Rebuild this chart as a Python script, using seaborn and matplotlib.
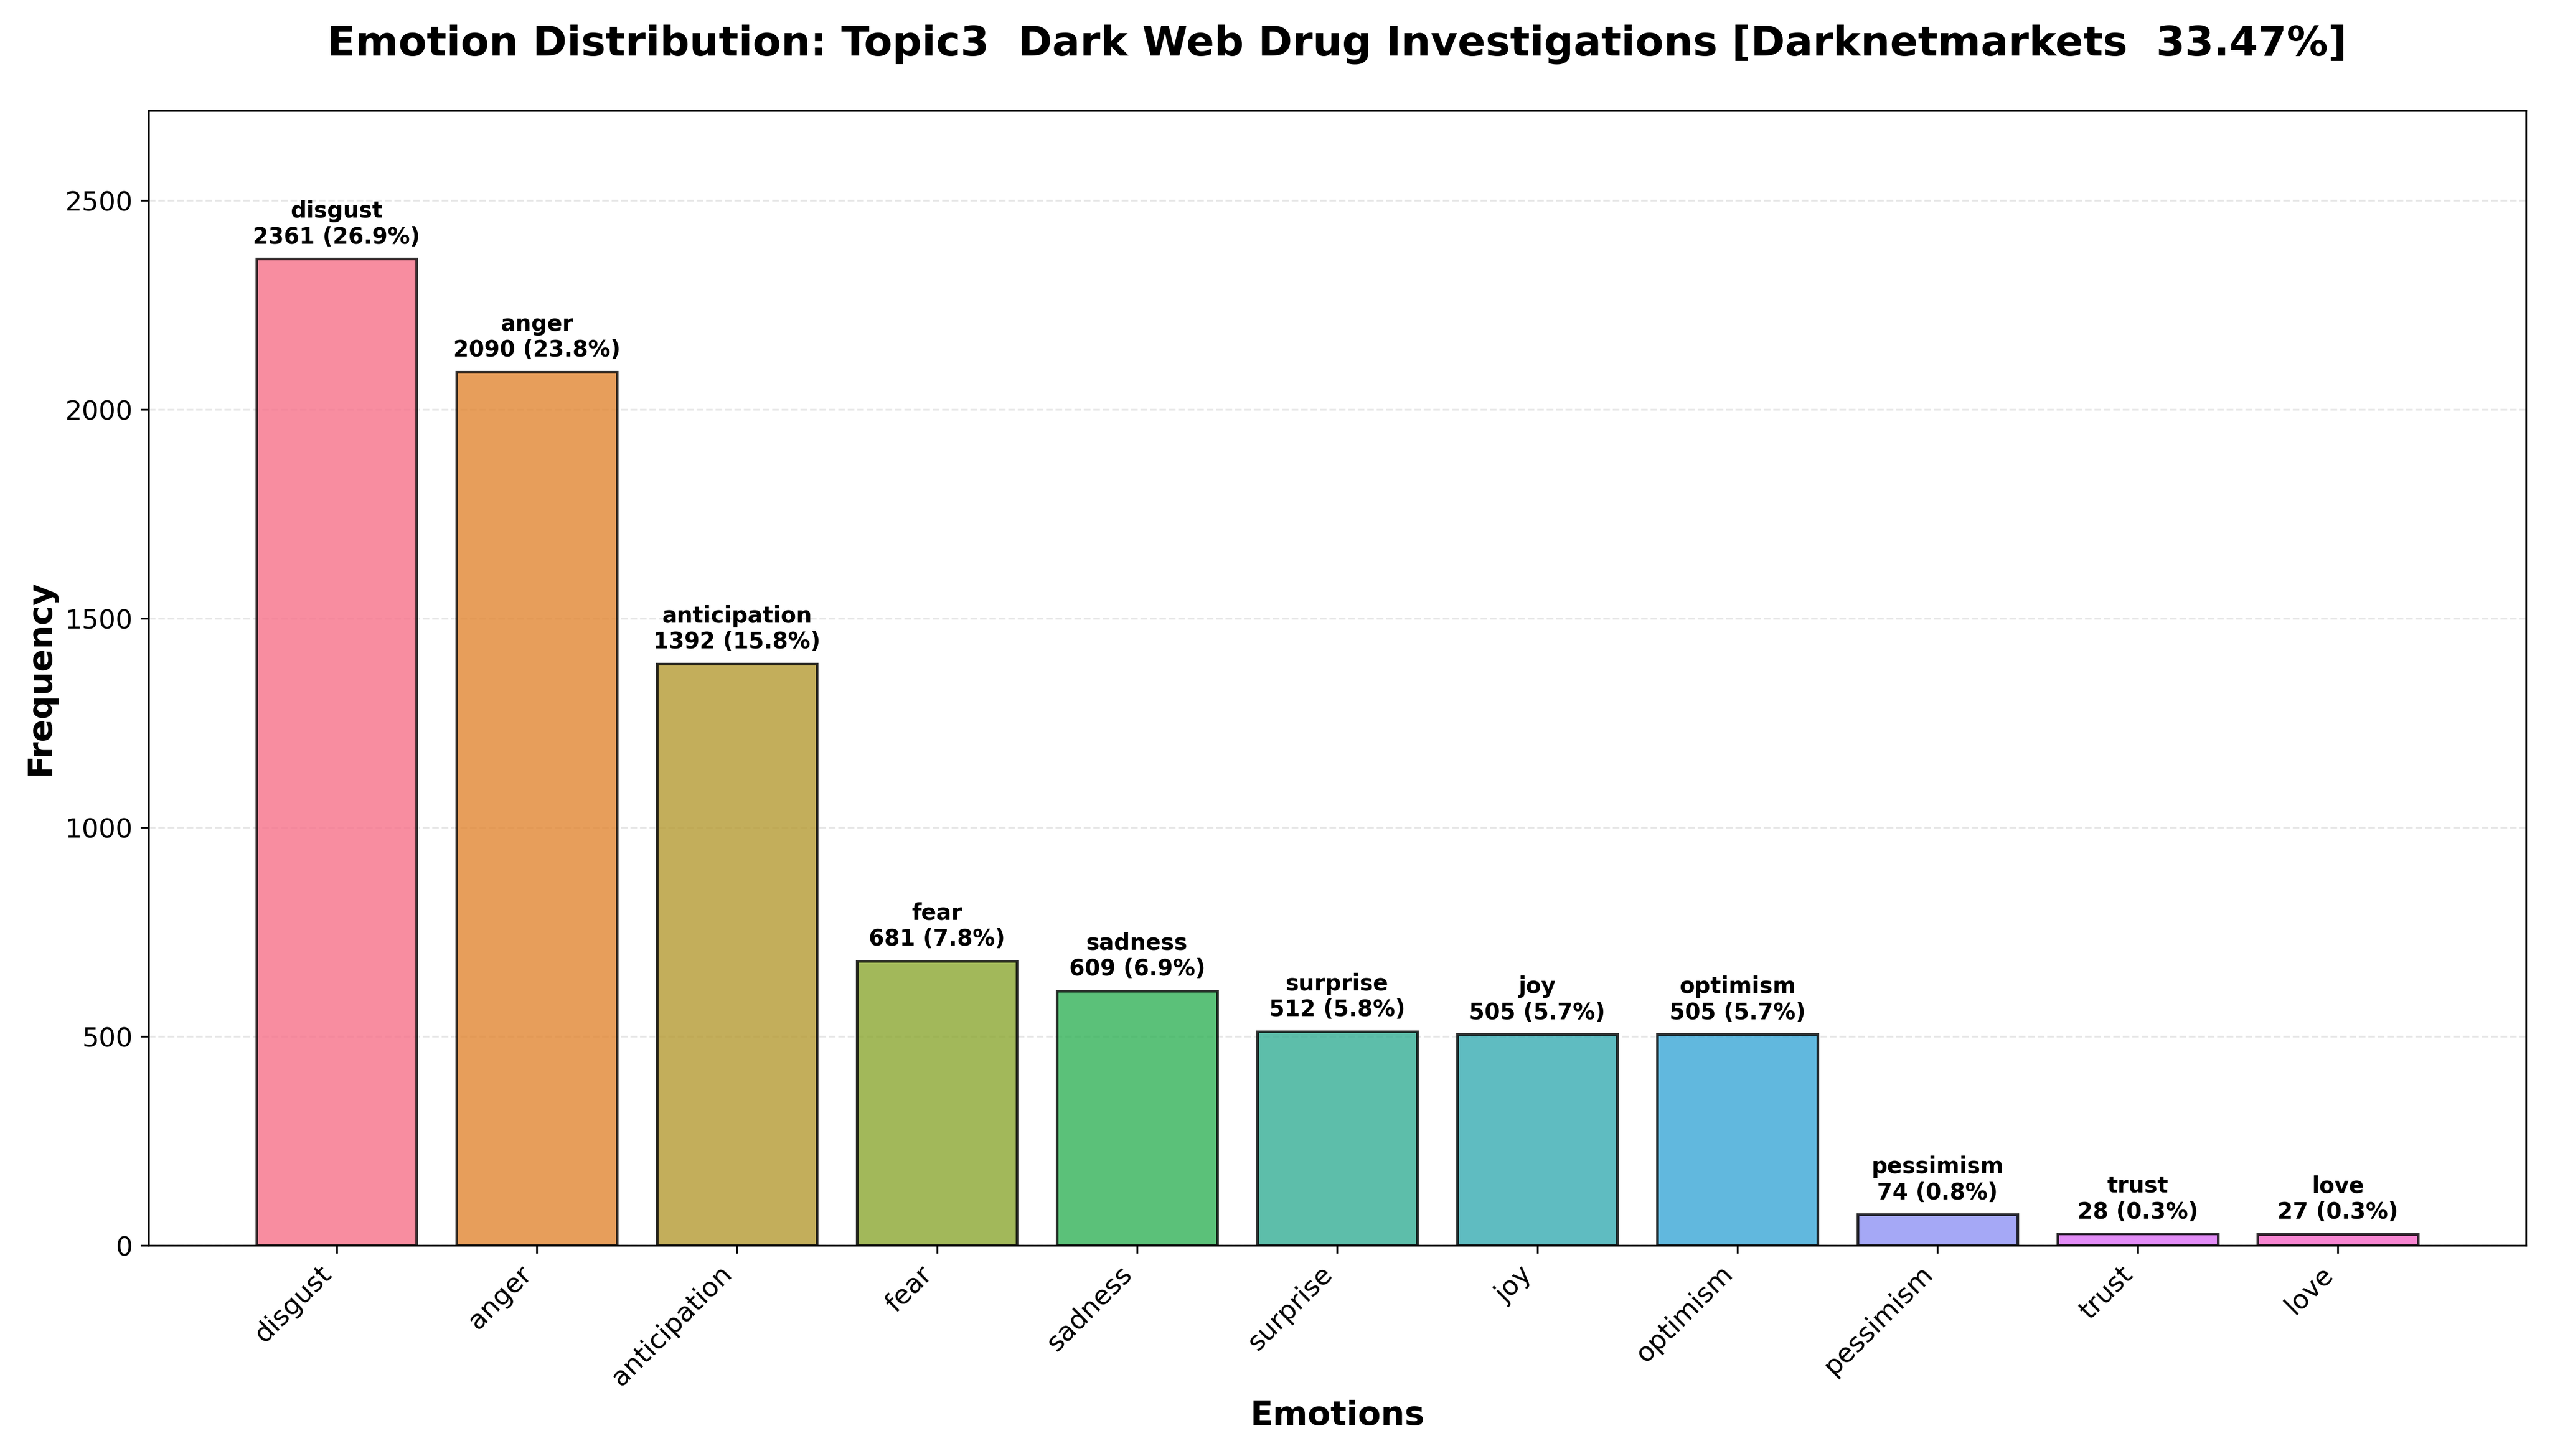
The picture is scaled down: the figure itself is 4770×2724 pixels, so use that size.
import matplotlib
matplotlib.use("Agg")
import matplotlib.pyplot as plt
import seaborn as sns
import pandas as pd

emotions = ["disgust", "anger", "anticipation", "fear", "sadness", "surprise",
            "joy", "optimism", "pessimism", "trust", "love"]
counts = [2361, 2090, 1392, 681, 609, 512, 505, 505, 74, 28, 27]
percents = [26.9, 23.8, 15.8, 7.8, 6.9, 5.8, 5.7, 5.7, 0.8, 0.3, 0.3]

df = pd.DataFrame({"emotion": emotions, "count": counts})
palette = sns.color_palette("husl", len(emotions))

fig, ax = plt.subplots(figsize=(15.9, 9.08), dpi=300)
sns.barplot(data=df, x="emotion", y="count", hue="emotion", palette=palette,
            alpha=0.8, edgecolor="black", linewidth=1.2, width=0.8,
            saturation=1, legend=False, ax=ax)

for i, (e, c, p) in enumerate(zip(emotions, counts, percents)):
    ax.text(i, c + 25, f"{e}\n{c} ({p}%)", ha="center", va="bottom",
            fontsize=10, fontweight="bold")

ax.set_ylim(0, max(counts) * 1.15)
ax.set_xlim(-0.94, 10.94)
ax.set_title("Emotion Distribution: Topic3  Dark Web Drug Investigations [Darknetmarkets  33.47%]",
             fontsize=18.5, fontweight="bold", pad=25)
ax.set_xlabel("Emotions", fontsize=15, fontweight="bold")
ax.set_ylabel("Frequency", fontsize=15, fontweight="bold")
ax.tick_params(axis="both", labelsize=12)
plt.setp(ax.get_xticklabels(), rotation=45, ha="right")
ax.yaxis.grid(True, linestyle="--", alpha=0.3)
ax.set_axisbelow(True)
fig.tight_layout()
fig.savefig("out.png", dpi=300)
